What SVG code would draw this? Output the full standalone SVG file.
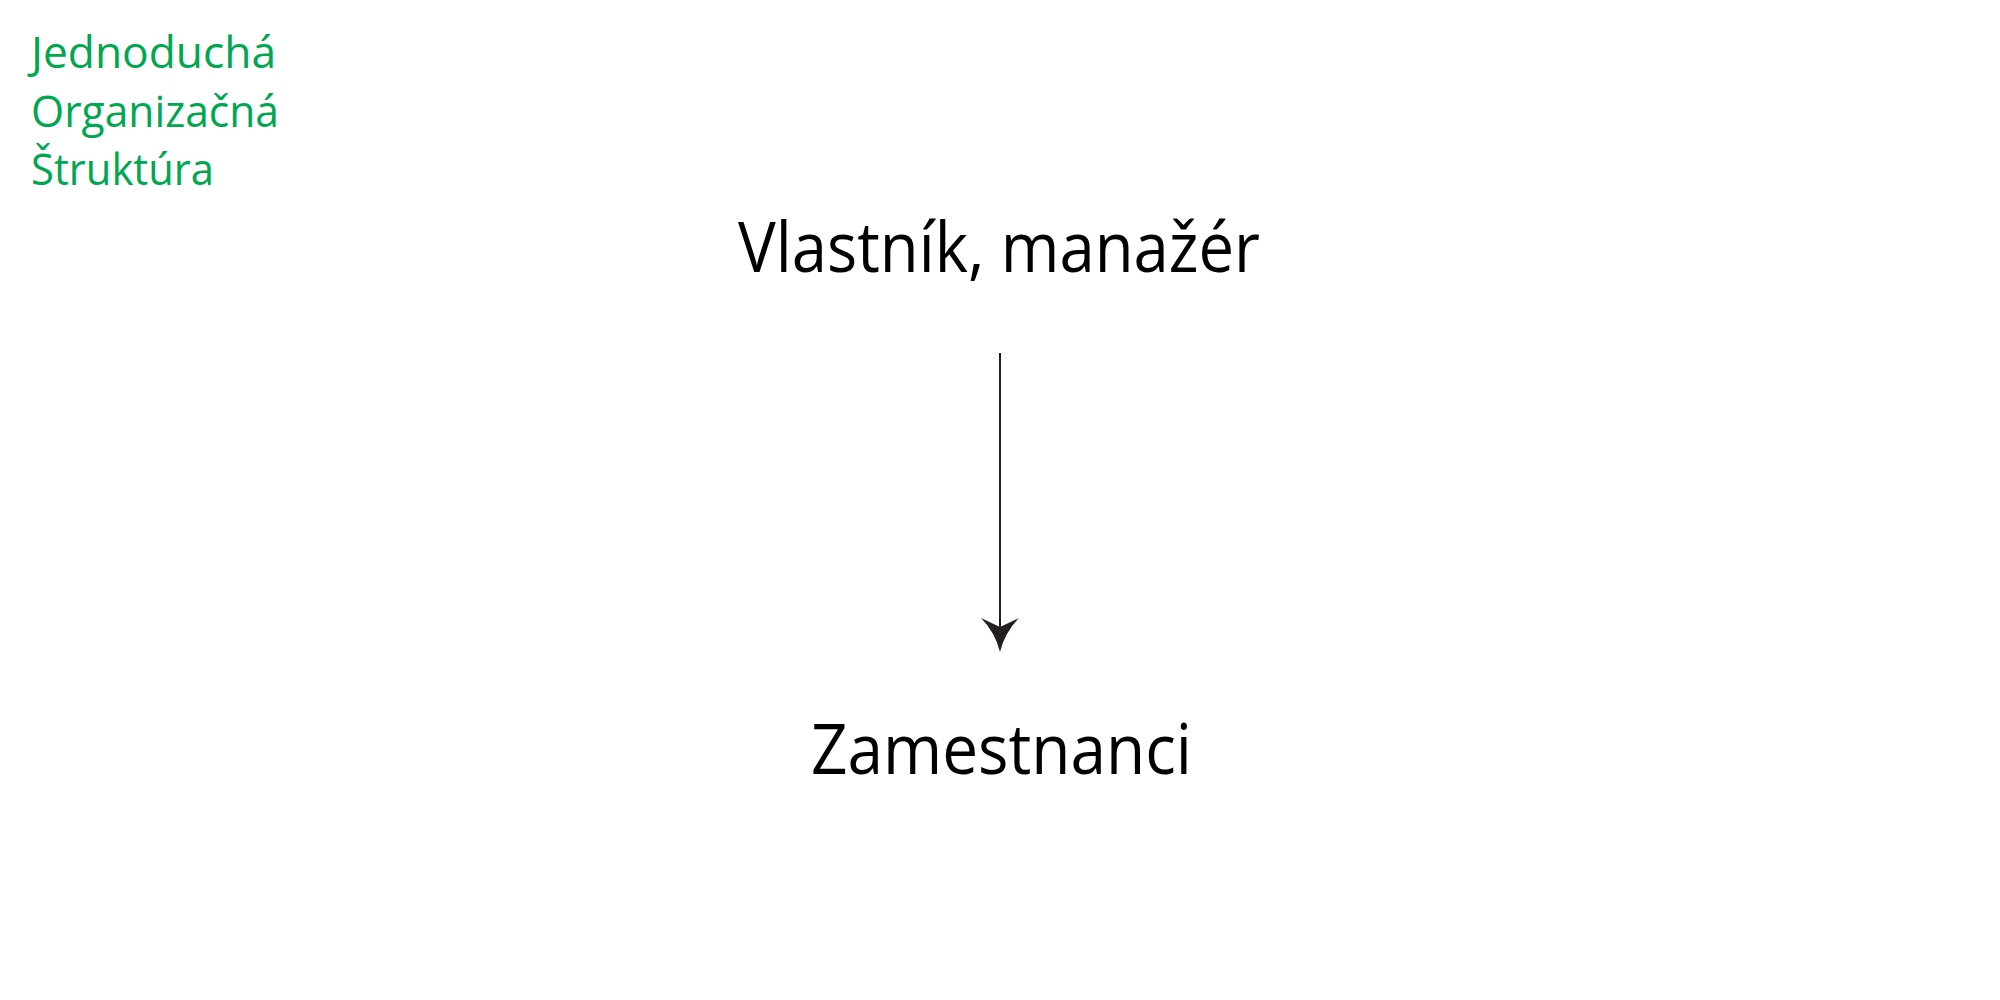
<svg xmlns="http://www.w3.org/2000/svg" width="2000" height="1000" viewBox="0 0 2000 1000">
  <style>
    .title { font-family: "Open Sans", "Noto Sans", sans-serif; font-size: 43px; font-weight: 500; fill: #00a651; }
    .node { font-family: "Open Sans", "Noto Sans", sans-serif; font-size: 70px; font-weight: 500; fill: #000000; }
    .edge { stroke: #231f20; stroke-width: 2; fill: none; }
  </style>
  <defs>
    <marker id="arrow" markerUnits="userSpaceOnUse" viewBox="-10 -20 36 40" markerWidth="36" markerHeight="40" refX="0" refY="0" orient="auto">
      <path d="M25,0 Q5,-5 -9,-19 L0,0 L-9,19 Q5,5 25,0 Z" fill="#231f20"/>
    </marker>
  </defs>
  <rect width="2000" height="1000" fill="#ffffff"/>
  <g id="title">
    <text class="title" x="31" y="68" textLength="245" lengthAdjust="spacingAndGlyphs">Jednoduchá</text>
    <text class="title" x="31" y="127" textLength="248" lengthAdjust="spacingAndGlyphs">Organizačná</text>
    <text class="title" x="31" y="185" textLength="183" lengthAdjust="spacingAndGlyphs">Štruktúra</text>
  </g>
  <g id="node-owner">
    <text class="node" x="738" y="272" textLength="522" lengthAdjust="spacingAndGlyphs">Vlastník, manažér</text>
  </g>
  <g id="node-employees">
    <text class="node" x="811" y="774" textLength="381" lengthAdjust="spacingAndGlyphs">Zamestnanci</text>
  </g>
  <g id="connectors">
    <line class="edge" x1="1000" y1="353" x2="1000" y2="627" marker-end="url(#arrow)"/>
  </g>
</svg>
